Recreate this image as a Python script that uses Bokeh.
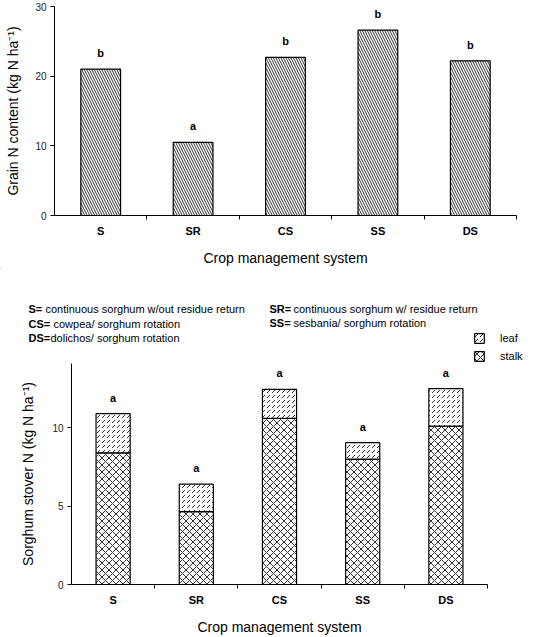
from bokeh.plotting import figure
from bokeh.models import (ColumnDataSource, FixedTicker, Legend, LegendItem,
                          Range1d)
from bokeh.core.properties import value
from bokeh.embed import file_html
from bokeh.resources import INLINE

# ---------------- data ----------------
systems = ["S", "SR", "CS", "SS", "DS"]
grain_n = [21.0, 10.5, 22.7, 26.6, 22.2]
grain_letters = ["b", "a", "b", "b", "b"]
stalk_n = [8.4, 4.65, 10.6, 8.0, 10.1]
leaf_n = [2.5, 1.75, 1.85, 1.05, 2.4]
stover_letters = ["a", "a", "a", "a", "a"]
grain_ticks = [0, 10, 20, 30]
stover_ticks = [0, 5, 10]
note_keys = ["S=", "CS=", "DS=", "SR=", "SS="]
note_texts = ["continuous sorghum w/out residue return",
              "cowpea/ sorghum rotation",
              "dolichos/ sorghum rotation",
              "continuous sorghum w/ residue return",
              "sesbania/ sorghum rotation"]
legend_labels = ["leaf", "stalk"]

FONT = "Liberation Sans"
xs = [i + 0.5 for i in range(len(systems))]
bounds = [float(i + 1) for i in range(len(systems))]

LEAF_STYLE = dict(fill_color="white", line_color="black", line_width=1.2,
                  hatch_pattern="right_diagonal_dash", hatch_color="black",
                  hatch_scale=5, hatch_weight=0.8)
STALK_STYLE = dict(fill_color="white", line_color="black", line_width=1.2,
                   hatch_pattern="diagonal_cross", hatch_color="black",
                   hatch_scale=7, hatch_weight=0.8)


def style(p, yticks, ylabel, label_standoff):
    p.outline_line_color = None
    p.xgrid.grid_line_color = None
    p.ygrid.grid_line_color = None
    xa = p.xaxis[0]
    xa.ticker = FixedTicker(ticks=xs, minor_ticks=bounds)
    xa.major_label_overrides = {x: s for x, s in zip(xs, systems)}
    xa.major_tick_out = 0
    xa.major_tick_in = 0
    xa.minor_tick_out = 4
    xa.minor_tick_in = 0
    xa.minor_tick_line_color = "black"
    xa.axis_line_color = "black"
    xa.major_label_text_font = FONT
    xa.major_label_text_font_style = "bold"
    xa.major_label_text_font_size = "11px"
    xa.major_label_text_color = "black"
    xa.major_label_standoff = 5
    xa.axis_label = "Crop management system"
    xa.axis_label_text_font = FONT
    xa.axis_label_text_font_style = "normal"
    xa.axis_label_text_font_size = "14px"
    xa.axis_label_text_color = "black"
    xa.axis_label_standoff = 10
    ya = p.yaxis[0]
    ya.ticker = FixedTicker(ticks=yticks)
    ya.major_tick_out = 4
    ya.major_tick_in = 0
    ya.minor_tick_out = 0
    ya.minor_tick_in = 0
    ya.axis_line_color = "black"
    ya.major_tick_line_color = "black"
    ya.major_label_text_font = FONT
    ya.major_label_text_font_size = "10px"
    ya.major_label_text_color = "#222222"
    ya.major_label_standoff = 4
    ya.axis_label = ylabel
    ya.axis_label_text_font = FONT
    ya.axis_label_text_font_style = "normal"
    ya.axis_label_text_font_size = "14px"
    ya.axis_label_text_color = "black"
    ya.axis_label_standoff = label_standoff


# ---------------- top chart: grain N ----------------
src1 = ColumnDataSource(dict(x=xs, grain=grain_n, letter=grain_letters))
p1 = figure(width=548, height=268, x_range=Range1d(0, 5), y_range=Range1d(0, 30),
            output_backend="svg", toolbar_location=None,
            min_border_left=54, min_border_right=32, min_border_top=6,
            min_border_bottom=52)
p1.vbar(x="x", top="grain", width=0.43, source=src1, fill_color="white",
        line_color="black", line_width=1.2, hatch_pattern="left_diagonal_line",
        hatch_color="black", hatch_scale=5, hatch_weight=0.8)
p1.text(x="x", y="grain", text="letter", source=src1, text_align="center",
        text_baseline="middle", y_offset=-16, text_font=value(FONT),
        text_font_style="bold", text_font_size="11px", text_color="black")
style(p1, grain_ticks, "Grain N content (kg N ha\u207b\u00b9)", 11)

# ---------------- middle: notes + legend ----------------
# y range is flipped so that y grows downward like the page
pm = figure(width=548, height=95, x_range=Range1d(0, 548), y_range=Range1d(95, 0),
            output_backend="svg", toolbar_location=None,
            x_axis_type=None, y_axis_type=None,
            min_border_left=0, min_border_right=0, min_border_top=0,
            min_border_bottom=0)
pm.outline_line_color = None
pm.xgrid.grid_line_color = None
pm.ygrid.grid_line_color = None
note_x = [28, 28, 28, 269, 269]
note_y = [40, 55, 69, 40, 54]
note_dx = [17, 25, 22, 24, 24]
src_notes = ColumnDataSource(dict(x=note_x, y=note_y, key=note_keys,
                                  desc=note_texts,
                                  x2=[a + b for a, b in zip(note_x, note_dx)]))
pm.text(x="x", y="y", text="key", source=src_notes, text_baseline="middle",
        text_font=value(FONT), text_font_style="bold", text_font_size="11px",
        text_color="black")
pm.text(x="x2", y="y", text="desc", source=src_notes, text_baseline="middle",
        text_font=value(FONT), text_font_size="11px", text_color="black")
# legend swatches: renderers kept outside the visible range, used only by the legend
offscreen = ColumnDataSource(dict(x=[-100], top=[-100]))
leaf_key = pm.vbar(x="x", top="top", width=1, source=offscreen, **LEAF_STYLE)
stalk_key = pm.vbar(x="x", top="top", width=1, source=offscreen, **STALK_STYLE)
legend = Legend(items=[LegendItem(label=legend_labels[0], renderers=[leaf_key]),
                       LegendItem(label=legend_labels[1], renderers=[stalk_key])],
                location=(473, 1), orientation="vertical", glyph_width=12,
                glyph_height=12, label_height=12, spacing=6, label_standoff=15,
                padding=0, margin=0, border_line_color=None,
                background_fill_alpha=0, label_text_font=FONT,
                label_text_font_size="11px", label_text_color="black")
pm.add_layout(legend)

# ---------------- bottom chart: stover N ----------------
totals = [s + l for s, l in zip(stalk_n, leaf_n)]
src2 = ColumnDataSource(dict(x=xs, stalk=stalk_n, leaf=leaf_n, total=totals,
                             letter=stover_letters))
p2 = figure(width=548, height=274, x_range=Range1d(0, 5), y_range=Range1d(0, 14.1),
            output_backend="svg", toolbar_location=None,
            min_border_left=71, min_border_right=61, min_border_top=0,
            min_border_bottom=50)
p2.vbar(x="x", bottom=0, top="stalk", width=0.41, source=src2, **STALK_STYLE)
p2.vbar(x="x", bottom="stalk", top="total", width=0.41, source=src2, **LEAF_STYLE)
p2.text(x="x", y="total", text="letter", source=src2, text_align="center",
        text_baseline="middle", y_offset=-16, text_font=value(FONT),
        text_font_style="bold", text_font_size="11px", text_color="black")
style(p2, stover_ticks, "Sorghum stover N (kg N ha\u207b\u00b9)", 13)

open("out.html", "w").write(file_html([p1, pm, p2], INLINE))
